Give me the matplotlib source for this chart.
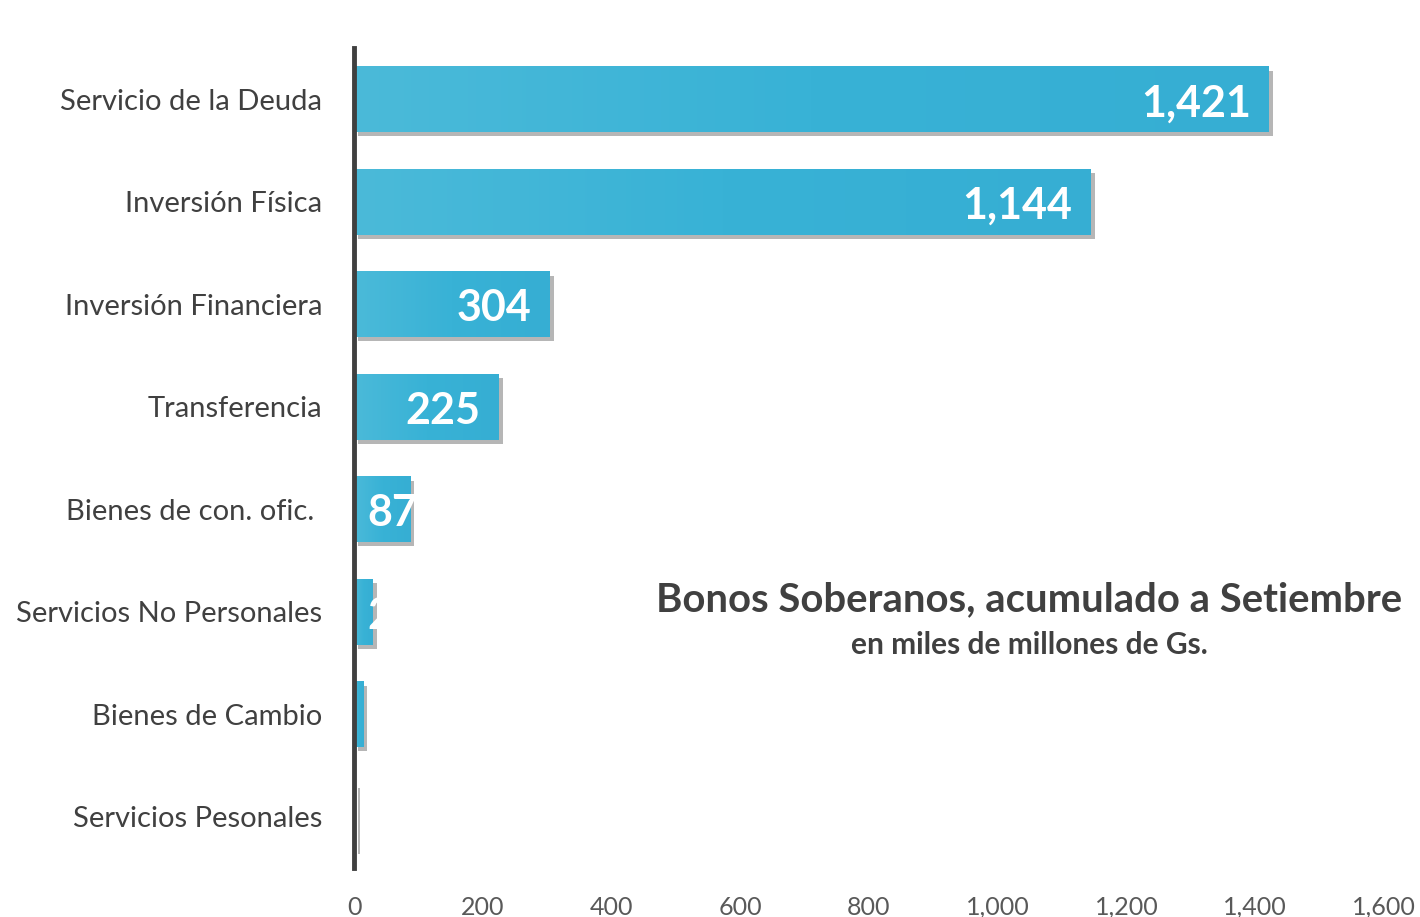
import numpy as np
import matplotlib.pyplot as plt
import matplotlib.patheffects as pe
from matplotlib.ticker import FuncFormatter
from matplotlib.colors import LinearSegmentedColormap

categories = ['Servicio de la Deuda', 'Inversión Física', 'Inversión Financiera',
              'Transferencia', 'Bienes de con. ofic. ', 'Servicios No Personales',
              'Bienes de Cambio', 'Servicios Pesonales']
values = [1421, 1144, 304, 225, 87, 29, 14, 3]
xticks = [0, 200, 400, 600, 800, 1000, 1200, 1400, 1600]

BAR = '#38b2d6'
DARK = '#404040'

plt.rcParams['font.family'] = ['Lato', 'DejaVu Sans']

fig = plt.figure(figsize=(14.2, 9.17), dpi=100)
ax = fig.add_axes([354 / 1420, 1 - 868 / 917, (1384 - 354) / 1420, (868 - 48) / 917])

y = np.arange(len(categories))
bars = ax.barh(y, values, height=0.64, color=BAR, zorder=2,
               path_effects=[pe.SimplePatchShadow(offset=(3, -3), shadow_rgbFace='#7a7a7a', alpha=0.55),
                             pe.Normal()])

# light gradient from the left edge of each bar
grad = np.linspace(0, 1, 256).reshape(1, -1)
cmap = LinearSegmentedColormap.from_list('g', ['#4bbad9', '#38b2d6', '#36aed3'])
for b in bars:
    x0, y0, w, h = b.get_x(), b.get_y(), b.get_width(), b.get_height()
    im = ax.imshow(grad, extent=[x0, x0 + w, y0, y0 + h], aspect='auto',
                   cmap=cmap, zorder=2.5, origin='lower')
    im.set_clip_path(b)

for yi, v in zip(y, values):
    ax.text(max(v - 28, 99), yi + 0.04, f'{v:,}', ha='right', va='center',
            color='white', fontsize=31, fontweight='bold', zorder=4)

ax.set_xlim(0, 1600)
ax.set_ylim(len(categories) - 0.5, -0.5)
ax.set_xticks(xticks)
ax.xaxis.set_major_formatter(FuncFormatter(lambda v, p: f'{int(v):,}'))
ax.set_yticks(y)
ax.set_yticklabels(categories)
ax.tick_params(axis='y', length=0, pad=23, labelsize=21, labelcolor=DARK)
ax.tick_params(axis='x', length=0, pad=20, labelsize=18, labelcolor='#595959')
for s in ['top', 'right', 'bottom']:
    ax.spines[s].set_visible(False)
ax.spines['left'].set_linewidth(3.5)
ax.spines['left'].set_color(DARK)
ax.spines['left'].set_zorder(5)

fig.text(1029 / 1420, 1 - 600 / 917, 'Bonos Soberanos, acumulado a Setiembre',
         ha='center', va='center', fontsize=28.8, fontweight='bold', color=DARK)
fig.text(1029 / 1420, 1 - 645 / 917, 'en miles de millones de Gs.',
         ha='center', va='center', fontsize=21.5, fontweight='bold', color=DARK)

fig.savefig('out.png', dpi=100)
